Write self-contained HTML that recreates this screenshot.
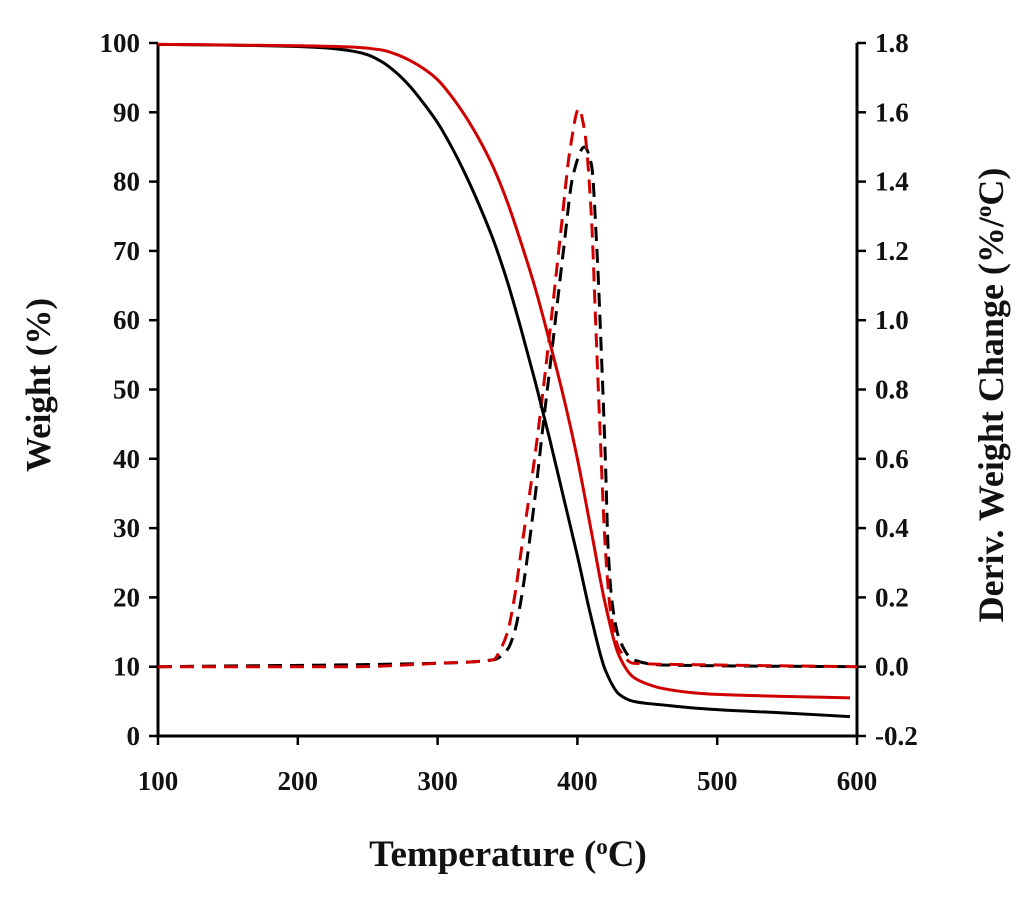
<!DOCTYPE html>
<html><head><meta charset="utf-8"><style>
body{margin:0;background:#fff;}
svg text{font-family:"Liberation Serif",serif;font-weight:bold;fill:#111;}
</style></head><body>
<svg id="chart" width="1024" height="897" xmlns="http://www.w3.org/2000/svg"></svg>
<script>
const tempB=[100,150,200,220,240,250,260,270,280,290,300,310,320,330,340,350,360,370,380,390,400,410,420,430,440,450,460,480,500,550,595];
const wtB=[99.8,99.7,99.5,99.3,98.8,98.3,97.3,95.8,93.8,91.3,88.5,85,81,76.5,71.5,65.5,58.5,51,43,34.5,26,17,9.5,6,5,4.7,4.5,4.1,3.8,3.3,2.8];
const tempR=[100,200,240,260,270,280,290,300,310,320,330,340,350,360,370,380,390,400,410,420,430,440,450,460,480,500,550,595];
const wtR=[99.8,99.6,99.4,99,98.4,97.5,96.3,94.7,92.3,89.4,86,82,77,71,64.5,57,49,40,29.5,19,11.5,8.5,7.5,6.9,6.3,6,5.7,5.5];
const dtB_t=[100,300,340,350,355,360,365,370,375,382,390,397,405,410,414,417,420,422,425,430,440,460,600];
const dtB_v=[0,0.01,0.02,0.05,0.1,0.2,0.34,0.5,0.68,0.92,1.2,1.42,1.5,1.45,1.2,0.92,0.6,0.34,0.18,0.08,0.02,0.005,0];
const dtR_t=[100,240,300,340,345,350,355,360,370,379,388,395,401,405,410,413,416,420,424,430,440,500,600];
const dtR_v=[0,0,0.01,0.02,0.05,0.1,0.2,0.34,0.62,0.92,1.25,1.5,1.61,1.55,1.3,1.0,0.7,0.34,0.15,0.05,0.01,0.005,0];
const xTicks=[100,200,300,400,500,600];
const yTicks=[0,10,20,30,40,50,60,70,80,90,100];
const y2Ticks=[-0.2,0,0.2,0.4,0.6,0.8,1.0,1.2,1.4,1.6,1.8];

const L=158,R=857,T=43,B=736;
const X=t=>L+(t-100)/500*(R-L);
const Y=v=>B-v/100*(B-T);
const Y2=v=>B-(v+0.2)/2*(B-T);
const svg=document.getElementById('chart');
const NS='http://www.w3.org/2000/svg';
function mk(tag,attrs,parent){const e=document.createElementNS(NS,tag);for(const k in attrs)e.setAttribute(k,attrs[k]);(parent||svg).appendChild(e);return e;}
function smooth(pts){
 const n=pts.length,dx=[],dy=[],m=[],s=[];
 for(let i=0;i<n-1;i++){dx[i]=pts[i+1][0]-pts[i][0];dy[i]=pts[i+1][1]-pts[i][1];s[i]=dy[i]/dx[i];}
 m[0]=s[0];m[n-1]=s[n-2];
 for(let i=1;i<n-1;i++){m[i]=(s[i-1]*s[i]<=0)?0:(dx[i-1]+dx[i])*3/((2*dx[i]+dx[i-1])/s[i-1]+(dx[i]+2*dx[i-1])/s[i]);}
 let d='M'+pts[0][0]+','+pts[0][1];
 for(let i=0;i<n-1;i++){const h=dx[i]/3;d+=' C'+(pts[i][0]+h)+','+(pts[i][1]+m[i]*h)+' '+(pts[i+1][0]-h)+','+(pts[i+1][1]-m[i+1]*h)+' '+pts[i+1][0]+','+pts[i+1][1];}
 return d;}

let a=mk('path',{d:`M${L},${T} V${B} H${R} V${T}`,fill:'none',stroke:'#000','stroke-width':3});

xTicks.forEach(t=>{
 let l=mk('line',{x1:X(t),x2:X(t),y1:B,y2:B+9,stroke:'#000','stroke-width':2.5});
 
 let tx=mk('text',{x:X(t),y:B+54,'text-anchor':'middle','font-size':27});tx.textContent=t;
 
});
yTicks.forEach(v=>{
 let l=mk('line',{x1:L-9,x2:L,y1:Y(v),y2:Y(v),stroke:'#000','stroke-width':2.5});
 
 let tx=mk('text',{x:L-18,y:Y(v)+9,'text-anchor':'end','font-size':27});tx.textContent=v;
 
});
y2Ticks.forEach(v=>{
 let l=mk('line',{x1:R,x2:R+9,y1:Y2(v),y2:Y2(v),stroke:'#000','stroke-width':2.5});
 
 let tx=mk('text',{x:R+18,y:Y2(v)+9,'text-anchor':'start','font-size':27});tx.textContent=v.toFixed(1);
 
});
let xt=mk('text',{x:508,y:866,'text-anchor':'middle','font-size':37});
xt.innerHTML='Temperature (<tspan baseline-shift="super" font-size="23">o</tspan>C)';

let yt=mk('text',{x:0,y:0,'text-anchor':'middle','font-size':35,transform:'translate(50,385) rotate(-90)'});
yt.textContent='Weight (%)';

let y2t=mk('text',{x:0,y:0,'text-anchor':'middle','font-size':36,transform:'translate(1003,395) rotate(-90)'});
y2t.innerHTML='Deriv. Weight Change (%/<tspan baseline-shift="super" font-size="23">o</tspan>C)';


function series(ts,vs,yf,color,dash,name){
 const p=mk('path',{d:smooth(ts.map((t,i)=>[X(t),yf(vs[i])])),fill:'none',stroke:color,'stroke-width':3,'stroke-dasharray':dash||'none'});
 
}
series(dtB_t,dtB_v,Y2,'#000','14,8','dtg-black');
series(dtR_t,dtR_v,Y2,'#d00000','14,8','dtg-red');
series(tempB,wtB,Y,'#000',null,'tga-black');
series(tempR,wtR,Y,'#d00000',null,'tga-red');
</script>
</body></html>
